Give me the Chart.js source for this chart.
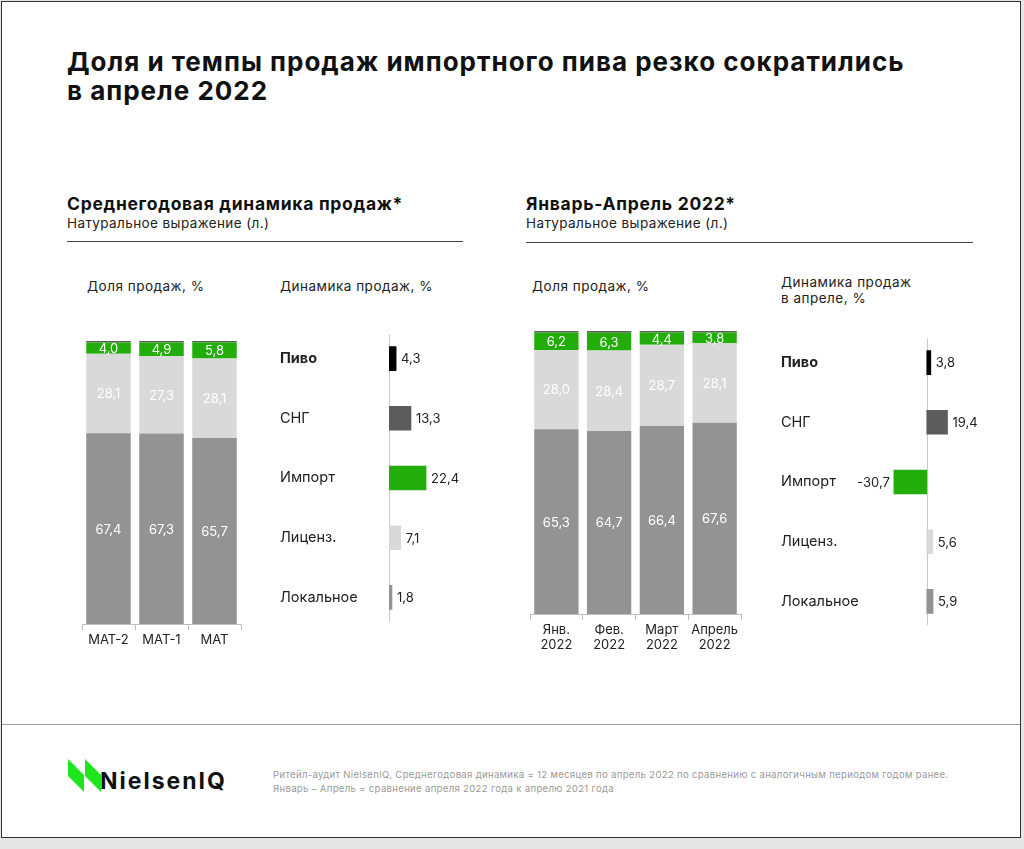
<!DOCTYPE html>
<html lang="ru">
<head>
<meta charset="utf-8">
<script src="https://cdn.jsdelivr.net/npm/chart.js@4"></script>
<style>
  body { margin: 0; background: #e6e6e6; font-family: Inter, "Noto Sans", sans-serif; color: #111; }
  #frame { position: absolute; left: 1px; top: 1px; width: 1018px; height: 835px; background: #fff; border: 1px solid #333; overflow: hidden; }
  .abs { position: absolute; white-space: nowrap; }
  .title { left: 65px; top: 45px; font-size: 26px; font-weight: 700; line-height: 29px; letter-spacing: 1px; }
  .head { font-size: 17.5px; font-weight: 700; letter-spacing: 0.7px; }
  .sub { font-size: 13.5px; color: #222; letter-spacing: 0.4px; }
  .cap { font-size: 13.5px; color: #222; line-height: 16px; letter-spacing: 0.5px; }
  .rule { position: absolute; height: 1px; background: #444; }
  canvas { position: absolute; }
  .foot { left: 271px; top: 766px; font-size: 9.6px; color: #9a9a9a; line-height: 14px; letter-spacing: 0.3px; }
</style>
</head>
<body>
<div id="frame">
  <div class="abs title">Доля и темпы продаж импортного пива резко сократились<br>в апреле 2022</div>

  <div class="abs head" style="left:65px; top:191px;">Среднегодовая динамика продаж*</div>
  <div class="abs sub" style="left:65px; top:213px;">Натуральное выражение (л.)</div>
  <div class="rule" style="left:65px; top:239px; width:396px;"></div>

  <div class="abs head" style="left:524px; top:191px;">Январь-Апрель 2022*</div>
  <div class="abs sub" style="left:524px; top:213px;">Натуральное выражение (л.)</div>
  <div class="rule" style="left:524px; top:240px; width:447px;"></div>

  <div class="abs cap" style="left:85px; top:276px;">Доля продаж, %</div>
  <div class="abs cap" style="left:278px; top:276px;">Динамика продаж, %</div>
  <div class="abs cap" style="left:530px; top:276px;">Доля продаж, %</div>
  <div class="abs cap" style="left:779px; top:272px;">Динамика продаж<br>в апреле, %</div>

  <canvas id="matShare" width="165" height="330" style="left:77px; top:328px;"></canvas>
  <canvas id="matGrowth" width="200" height="316" style="left:278px; top:318px;"></canvas>
  <canvas id="monthShare" width="217" height="340" style="left:525px; top:318px;"></canvas>
  <canvas id="aprilGrowth" width="210" height="316" style="left:779px; top:322px;"></canvas>

  <div class="rule" style="left:0; top:722px; width:1018px; background:#999;"></div>

  <svg class="abs" style="left:65px; top:756px;" width="175" height="40" viewBox="0 0 175 40">
    <polygon points="1,1 1,18 17,34 17,17" fill="#1fe51f"/>
    <polygon points="18,1 18,18 34,34 34,17" fill="#1fe51f"/>
    <text x="33" y="31" font-family="Inter, sans-serif" font-weight="700" font-size="23" letter-spacing="2" fill="#111">NielsenIQ</text>
  </svg>
  <div class="abs foot">Ритейл-аудит NielsenIQ, Среднегодовая динамика = 12 месяцев по апрель 2022 по сравнению с аналогичным периодом годом ранее.<br>Январь – Апрель = сравнение апреля 2022 года к апрелю 2021 года</div>
</div>

<script>
// Доля продаж, % (MAT)
const matLabels = ['MAT-2', 'MAT-1', 'MAT'];
const matLocal = [67.4, 67.3, 65.7];
const matLicense = [28.1, 27.3, 28.1];
const matImport = [4.0, 4.9, 5.8];
const matCis = [0.5, 0.5, 0.4];

// Доля продаж, % (месяцы 2022)
const monthLabels = [['Янв.', '2022'], ['Фев.', '2022'], ['Март', '2022'], ['Апрель', '2022']];
const monthLocal = [65.3, 64.7, 66.4, 67.6];
const monthLicense = [28.0, 28.4, 28.7, 28.1];
const monthImport = [6.2, 6.3, 4.4, 3.8];
const monthCis = [0.5, 0.6, 0.5, 0.5];

// Динамика продаж, %
const segments = ['Пиво', 'СНГ', 'Импорт', 'Лиценз.', 'Локальное'];
const matGrowth = [4.3, 13.3, 22.4, 7.1, 1.8];
const aprilGrowth = [3.8, 19.4, -30.7, 5.6, 5.9];

const GREEN = '#22ad0b';
const LOCAL = '#939393';
const LICENSE = '#d9d9d9';
const CIS = '#5c5c5c';
const segmentColors = ['#000000', CIS, GREEN, LICENSE, LOCAL];

Chart.defaults.font.family = 'Inter, "Noto Sans", sans-serif';
Chart.defaults.color = '#222';

const fmt = v => v.toFixed(1).replace('.', ',');

// value labels drawn from the bar elements
const valueLabels = {
  id: 'valueLabels',
  beforeDatasetsDraw(chart) {
    if (chart.options.indexAxis !== 'y') return;
    const ctx = chart.ctx, a = chart.chartArea;
    const x0 = Math.round(chart.scales.x.getPixelForValue(0)) + 0.5;
    ctx.save();
    ctx.strokeStyle = '#c8c8c8';
    ctx.lineWidth = 1;
    ctx.beginPath();
    ctx.moveTo(x0, a.top + 6);
    ctx.lineTo(x0, a.bottom - 6);
    ctx.stroke();
    ctx.restore();
  },
  afterDatasetsDraw(chart) {
    const ctx = chart.ctx;
    ctx.save();
    ctx.font = '13px Inter, "Noto Sans", sans-serif';
    ctx.textBaseline = 'middle';
    chart.data.datasets.forEach((ds, i) => {
      if (ds.noLabels) return;
      chart.getDatasetMeta(i).data.forEach((el, j) => {
        const v = ds.data[j];
        if (chart.options.indexAxis === 'y') {
          ctx.fillStyle = '#222';
          ctx.textAlign = v >= 0 ? 'left' : 'right';
          ctx.fillText(fmt(v), v >= 0 ? el.x + 5 : el.x - 4, el.y + 1);
        } else {
          ctx.fillStyle = '#fff';
          ctx.textAlign = 'center';
          ctx.fillText(fmt(v), el.x, (el.y + el.base) / 2 + 1);
        }
      });
    });
    ctx.restore();
  }
};

function shareChart(id, labels, local, license, imp, cis, axisHeight) {
  new Chart(document.getElementById(id), {
    type: 'bar',
    data: {
      labels: labels,
      datasets: [
        { label: 'Локальное', data: local, backgroundColor: LOCAL },
        { label: 'Лиценз.', data: license, backgroundColor: LICENSE },
        { label: 'Импорт', data: imp, backgroundColor: GREEN },
        { label: 'СНГ', data: cis, backgroundColor: CIS, noLabels: true }
      ]
    },
    options: {
      responsive: false,
      animation: false,
      layout: { padding: { left: 3, right: 3, top: 11, bottom: 0 } },
      datasets: { bar: { barPercentage: 1, categoryPercentage: 0.84 } },
      plugins: { legend: { display: false }, tooltip: { enabled: false } },
      scales: {
        x: {
          stacked: true,
          grid: { offset: true, drawOnChartArea: false, tickLength: 6, color: '#bdbdbd' },
          border: { color: '#bdbdbd' },
          ticks: { color: '#222', font: { size: 13 }, padding: 2, maxRotation: 0, minRotation: 0, autoSkip: false },
          afterFit: s => { s.height = axisHeight; }
        },
        y: { stacked: true, display: false, min: 0, max: 100 }
      }
    },
    plugins: [valueLabels]
  });
}

function growthChart(id, data, min, max, axisWidth) {
  new Chart(document.getElementById(id), {
    type: 'bar',
    data: {
      labels: segments,
      datasets: [{ data: data, backgroundColor: segmentColors, barThickness: 24 }]
    },
    options: {
      indexAxis: 'y',
      responsive: false,
      animation: false,
      plugins: { legend: { display: false }, tooltip: { enabled: false } },
      scales: {
        x: { display: false, min: min, max: max },
        y: {
          grid: { display: false },
          border: { display: false },
          ticks: {
            crossAlign: 'far',
            padding: 0,
            color: '#222',
            font: c => ({ size: 14.5, weight: c.index === 0 ? 'bold' : 'normal' })
          },
          afterFit: s => { s.width = axisWidth; }
        }
      }
    },
    plugins: [valueLabels]
  });
}

shareChart('matShare', matLabels, matLocal, matLicense, matImport, matCis, 36);
shareChart('monthShare', monthLabels, monthLocal, monthLicense, monthImport, monthCis, 46);
growthChart('matGrowth', matGrowth, 0, 55, 109);
growthChart('aprilGrowth', aprilGrowth, -53, 60, 89);
</script>
</body>
</html>
